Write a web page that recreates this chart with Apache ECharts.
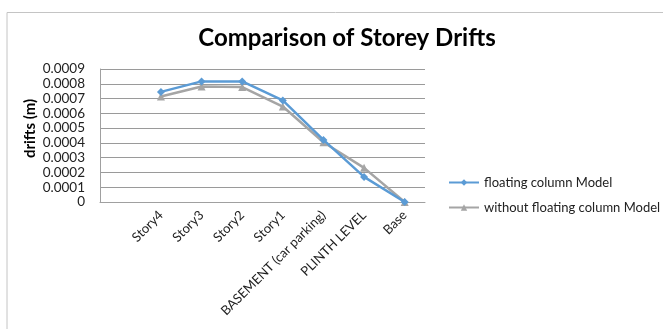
<!DOCTYPE html>
<html>
<head>
<meta charset="utf-8">
<script src="https://cdn.jsdelivr.net/npm/echarts@6/dist/echarts.min.js"></script>
<style>
  html, body { margin: 0; padding: 0; background: #fff; }
  #chart { width: 663px; height: 329px; }
</style>
</head>
<body>
<div id="chart"></div>
<script>
// Storey levels (a leading blank slot keeps the first band empty)
const categories = ['', 'Story4', 'Story3', 'Story2', 'Story1', 'BASEMENT (car parking)', 'PLINTH LEVEL', 'Base'];
// Drift values in metres
const floatingColumn = [null, 0.000745, 0.000816, 0.000816, 0.000687, 0.00042, 0.00017, 0.0];
const withoutFloatingColumn = [null, 0.000714, 0.000782, 0.000778, 0.000646, 0.000404, 0.000231, 0.0];
const seriesNames = ['floating column Model', 'without floating column Model'];

const FONT = 'Lato, "Liberation Sans", sans-serif';
const chart = echarts.init(document.getElementById('chart'));

chart.setOption({
  animation: false,
  backgroundColor: '#ffffff',
  textStyle: { fontFamily: FONT },
  title: {
    text: 'Comparison of Storey Drifts',
    left: 342,
    textAlign: 'center',
    top: 21,
    textStyle: { fontFamily: FONT, fontSize: 24, fontWeight: 'bold', color: '#000' }
  },
  graphic: [{
    type: 'polyline',
    shape: { points: [[7, 340], [7, 12.5], [670, 12.5]] },
    style: { stroke: '#c4c4c4', lineWidth: 1, fill: null },
    silent: true
  }],
  legend: {
    orient: 'vertical',
    left: 443,
    top: 171,
    itemWidth: 30,
    itemHeight: 8,
    itemGap: 12,
    textStyle: { fontFamily: FONT, fontSize: 13, color: '#222' },
    data: seriesNames
  },
  grid: { left: 100, right: 238, top: 69, bottom: 127, containLabel: false },
  xAxis: {
    type: 'category',
    data: categories,
    boundaryGap: true,
    axisLine: { show: true, lineStyle: { color: '#a0a0a0', width: 1 } },
    axisTick: { show: false },
    axisLabel: { interval: 0, rotate: 45, fontSize: 13, color: '#222', margin: 11, fontFamily: FONT }
  },
  yAxis: {
    type: 'value',
    min: 0,
    max: 0.0009,
    interval: 0.0001,
    name: 'drifts (m)',
    nameLocation: 'middle',
    nameGap: 62,
    nameRotate: 90,
    nameTextStyle: { fontFamily: FONT, fontSize: 15, fontWeight: 'bold', color: '#000', padding: [0, 0, 0, 14] },
    axisLine: { show: true, lineStyle: { color: '#a0a0a0', width: 1 } },
    axisTick: { show: false },
    splitLine: { show: true, lineStyle: { color: '#9a9a9a', width: 1 } },
    axisLabel: {
      fontSize: 13.5,
      color: '#222',
      margin: 15,
      fontFamily: FONT,
      formatter: v => (v === 0 ? '0' : v.toFixed(4))
    }
  },
  series: [
    {
      name: seriesNames[0],
      type: 'line',
      data: floatingColumn,
      symbol: 'diamond',
      symbolSize: 8,
      lineStyle: { color: '#5b9bd5', width: 2.5 },
      itemStyle: { color: '#5b9bd5' },
      z: 3
    },
    {
      name: seriesNames[1],
      type: 'line',
      data: withoutFloatingColumn,
      symbol: 'triangle',
      symbolSize: 8,
      lineStyle: { color: '#a5a5a5', width: 2.5 },
      itemStyle: { color: '#a5a5a5' },
      z: 2
    }
  ]
});
</script>
</body>
</html>
